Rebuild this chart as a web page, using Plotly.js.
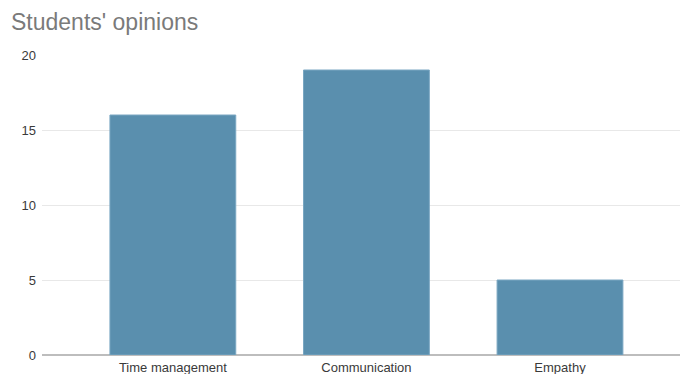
<!DOCTYPE html>
<html>
<head>
<meta charset="utf-8">
<script src="https://cdn.plot.ly/plotly-3.0.1.min.js"></script>
<style>html,body{margin:0;padding:0;background:#fff;}#chart{width:680px;height:374px;}</style>
</head>
<body>
<div id="chart"></div>
<script>
const categories = ['Time management', 'Communication', 'Empathy'];
const values = [16, 19, 5];
const yTicks = [0, 5, 10, 15, 20];

const trace = {
  type: 'bar',
  x: categories,
  y: values,
  marker: {color: '#5a8fae', line: {color: '#7aa7c2', width: 1}},
  hoverinfo: 'none'
};

const layout = {
  width: 680,
  height: 374,
  margin: {l: 42, r: 0, t: 55, b: 19},
  paper_bgcolor: '#ffffff',
  plot_bgcolor: '#ffffff',
  showlegend: false,
  bargap: 0.35,
  font: {family: 'Liberation Sans, Arial, sans-serif', color: '#333'},
  title: {
    text: "Students' opinions",
    x: 11/680, xanchor: 'left', xref: 'container',
    y: 1 - 22/374, yanchor: 'middle', yref: 'container',
    font: {size: 23, color: '#7a7a7a', family: 'Liberation Sans, Arial, sans-serif'}
  },
  xaxis: {
    range: [-0.676, 2.62],
    showgrid: false,
    zeroline: false,
    showline: false,
    ticks: '',
    ticklabelstandoff: 3,
    tickfont: {size: 13, color: '#3a3a3a'},
    automargin: false,
    fixedrange: true
  },
  yaxis: {
    range: [0, 20],
    tickvals: yTicks,
    ticktext: yTicks.map(String),
    showgrid: true,
    gridcolor: '#e8e8e8',
    gridwidth: 1,
    zeroline: true,
    zerolinecolor: '#bdbdbd',
    zerolinewidth: 2,
    showline: false,
    ticks: '',
    ticklabelstandoff: 5,
    tickfont: {size: 13, color: '#3a3a3a'},
    automargin: false,
    fixedrange: true
  }
};

Plotly.newPlot('chart', [trace], layout, {displayModeBar: false, staticPlot: true});
</script>
</body>
</html>
